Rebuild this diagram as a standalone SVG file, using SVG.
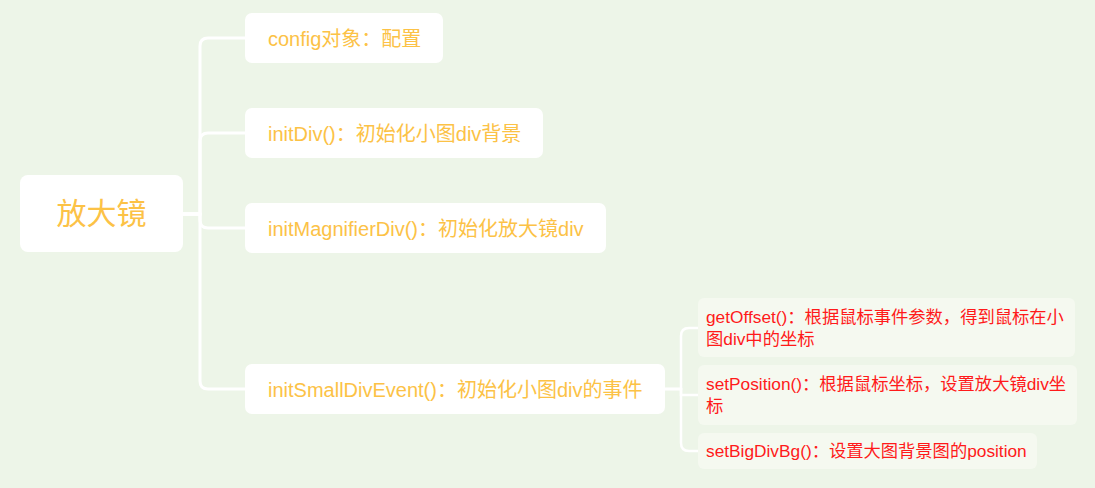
<svg xmlns="http://www.w3.org/2000/svg" width="1095" height="488" viewBox="0 0 1095 488">
<style>
.bg{fill:#EDF5E8}
.n0 rect,.n1 rect{fill:#FFFFFF}
.n2 rect{fill:#F5F9F0}
.t0{font-family:"Liberation Sans","Noto Sans CJK SC",sans-serif;font-size:30px;fill:#FCC246}
.t1{font-family:"Liberation Sans","Noto Sans CJK SC",sans-serif;font-size:20px;fill:#FCC246}
.t2{font-family:"Liberation Sans","Noto Sans CJK SC",sans-serif;font-size:17.3px;fill:#FF1A1A}
.c1{fill:none;stroke:#FFFFFF;stroke-width:3}
.c2{fill:none;stroke:#FFFFFF;stroke-width:2.5}
</style>
<rect class="bg" x="0" y="0" width="1095" height="488"/>
<g id="connectors">
<path class="c1" d="M183 214 H200 V46 Q200 38 208 38 H245"/>
<path class="c1" d="M183 214 H200 V141 Q200 133 208 133 H245"/>
<path class="c1" d="M183 214 H200 V220 Q200 228 208 228 H245"/>
<path class="c1" d="M183 214 H200 V381 Q200 389 208 389 H245"/>
<path class="c2" d="M665 389 H681 V336 Q681 328 689 328 H698"/>
<path class="c2" d="M665 389 H681 V395 H698"/>
<path class="c2" d="M665 389 H681 V443 Q681 451 689 451 H698"/>
</g>
<g id="root" class="n0">
<rect x="20" y="175" width="163" height="77" rx="8"/>
<text class="t0" x="101.5" y="224" text-anchor="middle">放大镜</text>
</g>
<g id="config" class="n1">
<rect x="245" y="13" width="198" height="50" rx="7"/>
<text class="t1" x="268" y="45.5">config对象：配置</text>
</g>
<g id="initDiv" class="n1">
<rect x="245" y="108" width="298" height="50" rx="7"/>
<text class="t1" x="268" y="140.5">initDiv()：初始化小图div背景</text>
</g>
<g id="initMagnifierDiv" class="n1">
<rect x="245" y="203" width="361" height="50" rx="7"/>
<text class="t1" x="268" y="235.5">initMagnifierDiv()：初始化放大镜div</text>
</g>
<g id="initSmallDivEvent" class="n1">
<rect x="245" y="364" width="420" height="50" rx="7"/>
<text class="t1" x="268" y="396.5">initSmallDivEvent()：初始化小图div的事件</text>
</g>
<g id="getOffset" class="n2">
<rect x="698" y="298" width="377" height="59" rx="6"/>
<text class="t2" x="706" y="323">getOffset()：根据鼠标事件参数，得到鼠标在小</text>
<text class="t2" x="706" y="345">图div中的坐标</text>
</g>
<g id="setPosition" class="n2">
<rect x="698" y="365" width="379" height="60" rx="6"/>
<text class="t2" x="706" y="390">setPosition()：根据鼠标坐标，设置放大镜div坐</text>
<text class="t2" x="706" y="412">标</text>
</g>
<g id="setBigDivBg" class="n2">
<rect x="698" y="433" width="339" height="36" rx="6"/>
<text class="t2" x="706" y="457">setBigDivBg()：设置大图背景图的position</text>
</g>
</svg>
